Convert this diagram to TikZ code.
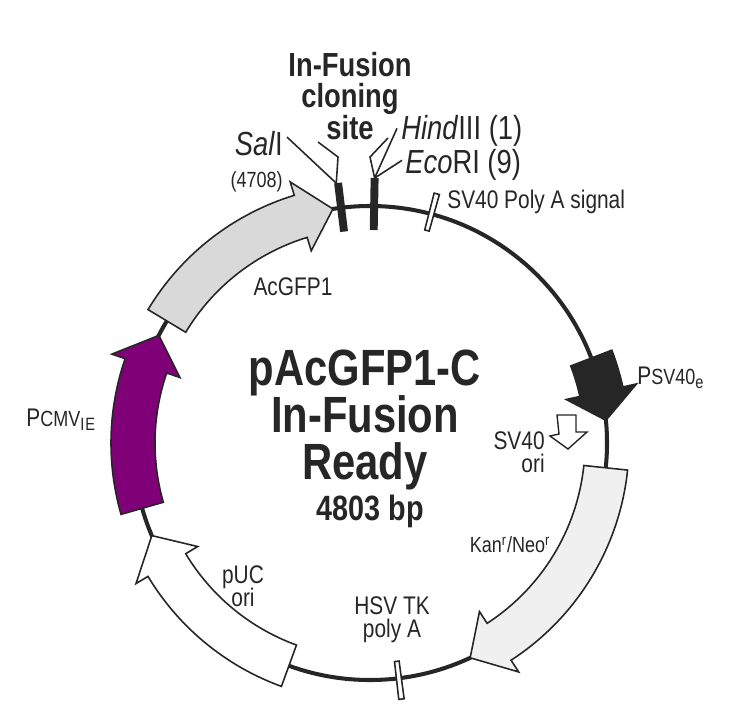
\documentclass[tikz,border=0pt]{standalone}
\usepackage{fontspec}
\setmainfont{Liberation Sans}[FakeStretch=0.82]
\usetikzlibrary{arrows.meta}
\definecolor{cmvpurple}{RGB}{128,0,120}
\definecolor{darkink}{RGB}{38,38,38}
\definecolor{gfpgray}{RGB}{217,217,217}
\definecolor{kangray}{RGB}{240,240,240}
\tikzset{
  feature/.style={draw=darkink, line width=0.9pt, line join=miter},
  label/.style={inner sep=0pt, text=darkink, font=\fontsize{14.5}{16}\selectfont},
  small label/.style={label, font=\fontsize{12.5}{14}\selectfont},
  leader/.style={draw=darkink, line width=0.9pt}
}
% arrow along the ring: start angle, end angle, head length (deg), style
\newcommand\ringarrow[4]{%
  \pgfmathsetmacro\headbase{#2-#3*sign(#2-#1)}%
  \draw[feature,#4] (#1:259) arc[start angle=#1, end angle=\headbase, radius=259]
    -- (\headbase:273) -- (#2:237) -- (\headbase:201) -- (\headbase:215)
    arc[start angle=\headbase, end angle=#1, radius=215] -- cycle;}
% thin marker box on the ring
\newcommand\ringmark[1]{%
  \draw[feature, fill=white] (#1-0.6:220) -- (#1-0.6:258) -- (#1+0.6:258) -- (#1+0.6:220) -- cycle;}

\begin{document}
\begin{tikzpicture}[x=0.02cm, y=0.02cm]
\useasboundingbox (0,0) rectangle (753,725);

% backbone and features
\begin{scope}[shift={(370,282)}]
\draw[darkink, line width=2.3pt] (0,0) circle[radius=237];
\ringarrow{196}{153}{8}{fill=cmvpurple}
\ringarrow{149}{99}{8}{fill=gfpgray}
\ringarrow{21}{5.5}{7}{fill=darkink}
\ringarrow{-6}{-65}{8}{fill=kangray}
\ringarrow{250}{203}{8}{fill=white}
\ringmark{75}
\ringmark{277}
\draw[darkink, line width=4.5pt] (97:213) -- (97:262);
\draw[darkink, line width=4.5pt] (89:213) -- (89:265);
\coordinate (salI) at (97.4:262);
\coordinate (hind) at (89:265);
\end{scope}

% SV40 ori
\draw[feature, line width=0.8pt, fill=white] (557,310) -- (576,310) -- (576,293) -- (587,293)
  -- (568,276) -- (550,289) -- (559,291) -- cycle;

% cloning site labels
\node[label, font=\fontsize{19}{21}\selectfont\bfseries, align=center] (site) at (350,629)
  {In-Fusion\\[-3pt]cloning\\[-3pt]site};
\node[label, font=\fontsize{19}{21}\selectfont, anchor=base east] (sal) at (283,570) {\textit{Sal}I};
\node[small label, anchor=base east] (salpos) at (283,538) {(4708)};
\node[label, font=\fontsize{19}{21}\selectfont, anchor=base west] (hindtxt) at (401,586) {\textit{Hind}III (1)};
\node[label, font=\fontsize{19}{21}\selectfont, anchor=base west] (ecotxt) at (405,552) {\textit{Eco}RI (9)};
\coordinate (sitebend) at (338,568);
\coordinate (sitebend2) at (370,568);
\draw[leader] (318,583) -- (sitebend) -- (salI);
\draw[leader] (388,587) -- (sitebend2) -- (hind);
\draw[leader] (sal.east) ++(4,6) -- (salI);
\draw[leader] (hindtxt.west) ++(-4,2) -- (hind);
\draw[leader] (ecotxt.west) ++(-3,4) -- (hind);

% feature labels
\node[label, anchor=west] (polya) at (447,523) {SV40 Poly A signal};
\node[label] (gfp) at (293,438) {AcGFP1};
\node[label, anchor=west] (psv) at (637,347) {P{\fontsize{12.5}{14}\selectfont SV40}$_{\mathrm{e}}$};
\node[label, align=right, anchor=east] (sv40ori) at (545,273) {SV40\\[-3pt]ori};
\node[small label] (kan) at (510,180) {Kan\textsuperscript{r}/Neo\textsuperscript{r}};
\node[label, align=center] (hsv) at (392,105) {HSV TK\\[-3pt]poly A};
\node[label, align=center] (puc) at (243,139) {pUC\\[-3pt]ori};
\node[label, anchor=west] (cmv) at (26,305) {P{\fontsize{12.5}{14}\selectfont CMV}$_{\mathrm{IE}}$};

% title
\node[label, font=\fontsize{29}{29}\selectfont\bfseries, align=center] (title) at (365,305)
  {pAcGFP1-C\\[-2pt]In-Fusion\\[-2pt]Ready};
\node[label, font=\fontsize{20}{22}\selectfont\bfseries] (size) at (370,214) {4803 bp};
\end{tikzpicture}
\end{document}
